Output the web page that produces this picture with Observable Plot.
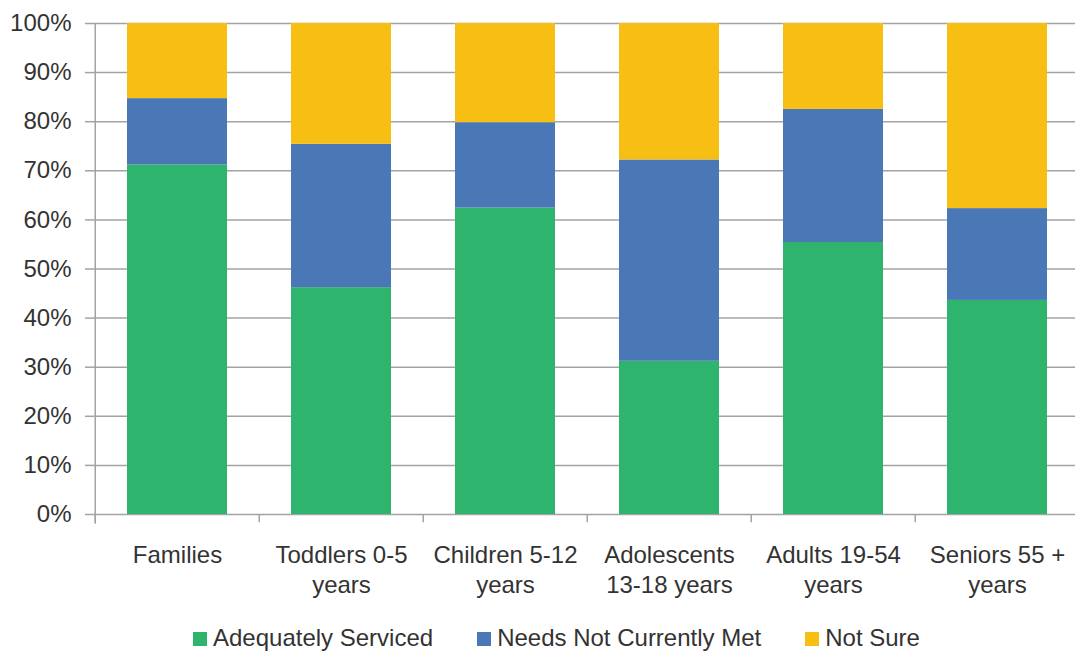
<!DOCTYPE html>
<html>
<head>
<meta charset="utf-8">
<script src="https://cdn.jsdelivr.net/npm/d3@7"></script>
<script src="https://cdn.jsdelivr.net/npm/@observablehq/plot@0.6"></script>
<style>
  body { margin: 0; background: #fff; font-family: "Liberation Sans", Arial, sans-serif; }
  #legend { display: flex; align-items: flex-start; height: 49px; padding-left: 193px; padding-top: 21px; box-sizing: border-box; font-size: 24px; line-height: 1; color: #333; }
  #legend .item { display: flex; align-items: flex-start; margin-right: 44px; }
  #legend .sw { width: 14px; height: 14px; margin-right: 6px; margin-top: 6px; }
</style>
</head>
<body>
<div id="chart"></div>
<div id="legend"></div>
<script>
// Age groups along the x axis
const categories = ["Families", "Toddlers", "Children", "Adolescents", "Adults", "Seniors"];
const tickLabels = [
  "Families",
  "Toddlers 0-5\nyears",
  "Children 5-12\nyears",
  "Adolescents\n13-18 years",
  "Adults 19-54\nyears",
  "Seniors 55 +\nyears"
];

// Share of responses per group (%)
const seriesNames = ["Adequately Serviced", "Needs Not Currently Met", "Not Sure"];
const seriesColors = ["#2eb46c", "#4a78b6", "#f7be14"];
const adequatelyServiced   = [71.2, 46.2, 62.4, 31.2, 55.4, 43.6];
const needsNotCurrentlyMet = [13.5, 29.2, 17.4, 41.0, 27.1, 18.7];
const notSure              = [15.3, 24.6, 20.2, 27.8, 17.5, 37.7];

const yTicks = [0, 10, 20, 30, 40, 50, 60, 70, 80, 90, 100];

const seriesValues = [adequatelyServiced, needsNotCurrentlyMet, notSure];
const rows = categories.flatMap((category, i) =>
  seriesNames.map((series, s) => ({category, series, value: seriesValues[s][i]}))
);

// Layout
const chartWidth = 1075, chartHeight = 605;
const mLeft = 93, xEnd = 1080, mTop = 23, mBottom = 91;
const step = (xEnd - mLeft) / categories.length;
const pad = 0.392;
const gridColor = "#a3a3a3";
const textColor = "#333";
const font = '"Liberation Sans", Arial, sans-serif';
const fontSize = 24;

const chart = Plot.plot({
  width: chartWidth, height: chartHeight,
  marginLeft: mLeft, marginRight: 0, marginTop: mTop, marginBottom: mBottom,
  style: {fontFamily: font, fontSize: fontSize + "px", color: textColor, background: "#fff", overflow: "visible"},
  x: {domain: categories, range: [mLeft, xEnd], paddingInner: pad, paddingOuter: pad / 2, axis: null, label: null},
  y: {domain: [0, 100], axis: null, label: null},
  color: {domain: seriesNames, range: seriesColors},
  marks: [
    Plot.gridY(yTicks, {stroke: gridColor, strokeOpacity: 1, strokeWidth: 1.5}),
    Plot.barY(rows, {x: "category", y: "value", fill: "series", order: seriesNames}),
    // vertical axis line and category boundary ticks
    Plot.ruleX([categories[0]], {x: d => d, dx: -step / 2, y1: -2, y2: 100, stroke: gridColor, strokeWidth: 1.5}),
    Plot.ruleX(categories, {x: d => d, dx: -step / 2, y1: -1.7, y2: 0, stroke: gridColor, strokeWidth: 1.5}),
    Plot.axisY(yTicks, {
      tickFormat: d => d + "%", tickSize: 8, tickPadding: 14,
      stroke: gridColor, strokeWidth: 1.5, fill: textColor, fontSize
    }),
    Plot.axisX({
      tickSize: 0, tickPadding: 27, lineHeight: 1.25, fill: textColor, fontSize,
      tickFormat: d => tickLabels[categories.indexOf(d)]
    })
  ]
});
document.getElementById("chart").appendChild(chart);

// Legend below the chart
const legend = d3.select("#legend");
seriesNames.forEach((name, i) => {
  const item = legend.append("div").attr("class", "item");
  item.append("div").attr("class", "sw").style("background", seriesColors[i]);
  item.append("span").text(name);
});
</script>
</body>
</html>
